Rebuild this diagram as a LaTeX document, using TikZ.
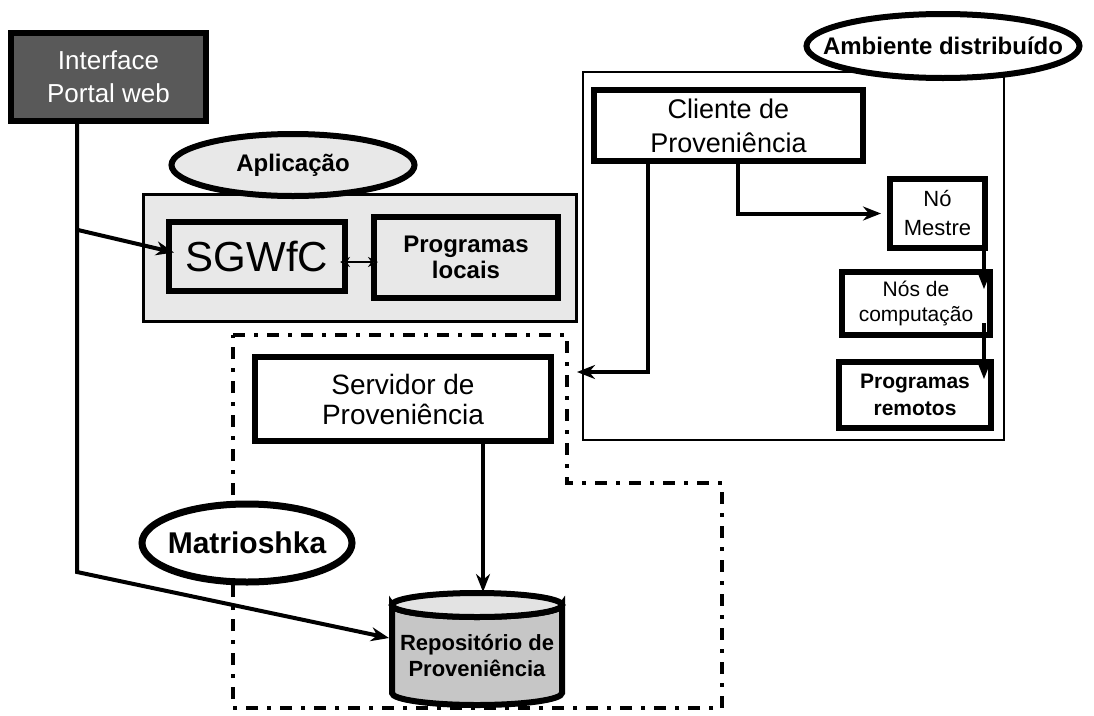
\documentclass[tikz,border=0pt]{standalone}
\usepackage{fontspec}
\setmainfont{Liberation Sans}
\usetikzlibrary{shapes.geometric,arrows.meta,calc}

\begin{document}
\begin{tikzpicture}[x=1pt,y=-1pt,
  box/.style={draw=black, line width=6pt, rectangle, inner sep=0pt, align=center},
  tag/.style={draw=black, line width=6pt, ellipse, inner sep=0pt, fill=white},
  tagtext/.style={font=\bfseries\fontsize{24}{28}\selectfont},
  tip/.style={-{Stealth[length=18pt,width=14pt,fill=gray!35]}},
  conn/.style={draw=black, line width=4pt, tip},
  zone/.style={draw=black, line width=4.5pt,
               dash pattern=on 12pt off 9pt on 4pt off 9pt},
]
\useasboundingbox (0,0) rectangle (1094,715);

% ---- application layer ----
\node[draw=black, line width=3pt, fill=gray!18, minimum width=433pt, minimum height=127pt]
  (apprect) at (359.5,257.5) {};
\node[tag, fill=gray!18, minimum width=243pt, minimum height=62pt,
      label={[tagtext, font=\bfseries\fontsize{24}{28}\selectfont]center:Aplicação}]
  (appell) at (293,165) {};

% ---- Matrioshka zone (drawn early so the boxes sit on top) ----
\draw[zone] (233,335) -- (567,335) -- (567,483) -- (722,483) -- (722,708) -- (233,708) -- cycle;

\node[box, minimum width=176pt, minimum height=69pt,
      font=\fontsize{42}{46}\selectfont] (sg) at (257,256.5) {SGWfC};
\node[box, minimum width=184pt, minimum height=81pt,
      font=\bfseries\fontsize{24}{26}\selectfont] (pl) at (466,257.5) {Programas\\locais};
% double arrow between the workflow system and the local programs
\draw[draw=black, line width=2.5pt,
      {Stealth[length=10pt,width=10pt,fill=gray!35]}-{Stealth[length=10pt,width=10pt,fill=gray!35]}]
  ($(sg.east)+(-8,5.5)$) -- ($(pl.west)+(7,4.5)$);

% ---- web interface ----
\node[box, minimum width=195pt, minimum height=88pt, fill=black!65, text=white,
      font=\fontsize{26}{33}\selectfont] (iface) at (108.5,77) {Interface\\Portal web};

% ---- distributed environment ----
\draw[line width=2.5pt] (583,72) rectangle (1004,440);
\node[tag, minimum width=273pt, minimum height=64pt,
      label={[tagtext]center:Ambiente distribuído}] (distell) at (943,46) {};
\node[box, minimum width=269pt, minimum height=71pt,
      font=\fontsize{27}{34}\selectfont] (cli) at (728.5,125.5) {Cliente de\\Proveniência};
\node[box, minimum width=95pt, minimum height=69pt,
      font=\fontsize{22}{29}\selectfont] (mestre) at (937.5,213.5) {Nó\\Mestre};
\node[box, minimum width=148pt, minimum height=63pt,
      font=\fontsize{21}{25}\selectfont] (nos) at (916,303.5) {Nós de\\computação};
\node[box, minimum width=152pt, minimum height=66pt,
      font=\bfseries\fontsize{21}{27}\selectfont] (rem) at (915,395) {Programas\\remotos};

% ---- provenance server and Matrioshka tag ----
\node[box, minimum width=296pt, minimum height=84pt,
      font=\fontsize{28}{30}\selectfont] (serv) at (403,399) {Servidor de\\Proveniência};
\node[tag, line width=7pt, minimum width=210pt, minimum height=78pt,
      label={[tagtext, font=\bfseries\fontsize{30}{34}\selectfont]center:Matrioshka}]
  (matr) at (247,543) {};

% provenance repository (cylinder)
\filldraw[fill=gray!45, line width=6pt]
  (392,605) -- (392,693) arc[start angle=180, end angle=0, x radius=85, y radius=12]
  -- (562,605) arc[start angle=0, end angle=180, x radius=85, y radius=12] -- cycle;
\draw[fill=gray!22, line width=6pt] (477,605) ellipse [x radius=85, y radius=12];
\node[inner sep=0pt, align=center, font=\bfseries\fontsize{22}{26}\selectfont]
  (repo) at (477,656) {Repositório de\\Proveniência};
\coordinate (repotop) at (483,592);
\coordinate (repoin) at (389,638);

% ---- connectors ----
\coordinate (bend) at (77,572);
\coordinate (fork) at (78,230);
\draw[conn] (iface.south -| bend) -- (bend) -- (repoin);
\draw[conn] (fork) -- ($(sg.west)+(8,-4)$);

\coordinate (cl) at (648,372);
\coordinate (servin) at (577,372);
\draw[conn] (cli.south -| cl) -- (cl) -- (servin);

\coordinate (cr) at (738,0);
\draw[conn, shorten >=6pt] (cli.south -| cr) -- (cr |- mestre.west) -- (mestre.west);

\draw[conn] ($(mestre.south east)+(-4,-20)$) -- ($(nos.north east)+(-9,20)$);
\draw[conn] ($(nos.south east)+(-9,-15)$) -- ($(rem.north east)+(-10,20)$);

\draw[conn] (serv.south -| repotop) -- (repotop);
\end{tikzpicture}
\end{document}
